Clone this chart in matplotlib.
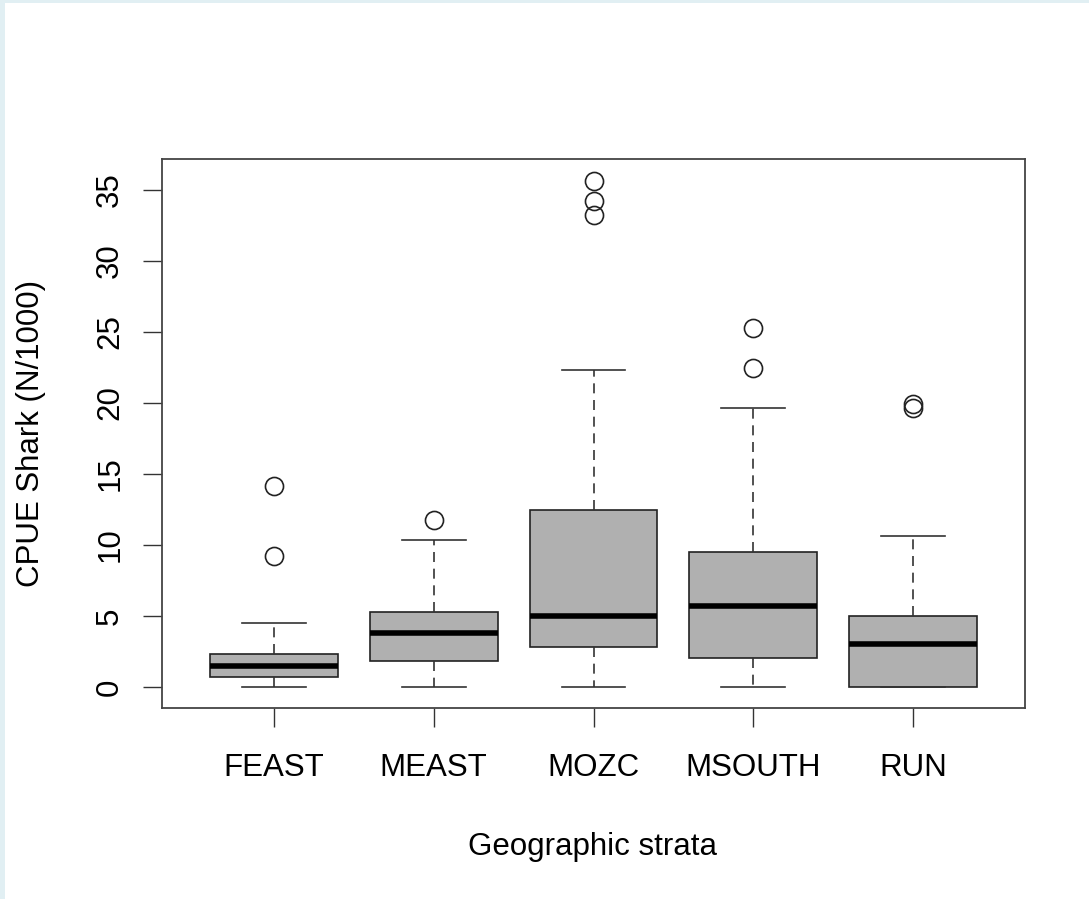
import matplotlib.pyplot as plt
from matplotlib.patches import Rectangle

# strata and box summaries
strata = ['FEAST', 'MEAST', 'MOZC', 'MSOUTH', 'RUN']
whisk_lo = [0.0, 0.0, 0.0, 0.0, 0.0]
q1 = [0.7, 1.85, 2.85, 2.07, 0.0]
medians = [1.48, 3.78, 5.0, 5.7, 3.0]
q3 = [2.32, 5.26, 12.44, 9.49, 5.0]
whisk_hi = [4.48, 10.35, 22.35, 19.65, 10.66]
outliers = [
    [9.2, 14.18],
    [11.76],
    [33.24, 34.2, 35.63],
    [22.44, 25.26],
    [19.65, 19.95],
]
y_ticks = [0, 5, 10, 15, 20, 25, 30, 35]

plt.rcParams['font.family'] = ['Liberation Sans', 'DejaVu Sans']

fig = plt.figure(figsize=(10.89, 8.99), dpi=100)
ax = fig.add_axes([162 / 1089, 1 - 708 / 899, 863 / 1089, 549 / 899])

# light blue frame of the screenshot
fig.patches.append(Rectangle((0, 1 - 3 / 899), 1, 3 / 899, transform=fig.transFigure,
                             facecolor='#e1eff3', edgecolor='none', zorder=0))
fig.patches.append(Rectangle((0, 0), 5 / 1089, 1, transform=fig.transFigure,
                             facecolor='#e1eff3', edgecolor='none', zorder=0))

stats = []
for i, name in enumerate(strata):
    stats.append(dict(label=name, whislo=whisk_lo[i], q1=q1[i], med=medians[i],
                      q3=q3[i], whishi=whisk_hi[i], fliers=outliers[i]))

ax.bxp(stats, positions=range(1, len(strata) + 1), widths=0.8, patch_artist=True,
       boxprops=dict(facecolor='#b0b0b0', edgecolor='#222222', linewidth=1.2),
       medianprops=dict(color='black', linewidth=4, solid_capstyle='butt'),
       whiskerprops=dict(color='#333333', linewidth=1.2, linestyle=(0, (6, 4))),
       capprops=dict(color='#333333', linewidth=1.2),
       capwidths=0.4,
       flierprops=dict(marker='o', markersize=13, markerfacecolor='none',
                       markeredgecolor='#222222', markeredgewidth=1.2))

ax.set_xlim(0.3, 5.7)
ax.set_ylim(-1.48, 37.18)
ax.set_yticks(y_ticks)
ax.set_yticklabels([str(t) for t in y_ticks], rotation=90, va='center')
ax.tick_params(axis='both', direction='out', length=13.5, width=1, colors='#333333',
               labelcolor='black', labelsize=22.5)
ax.tick_params(axis='x', pad=19)
ax.tick_params(axis='y', pad=13)

for s in ax.spines.values():
    s.set_color('#444444')
    s.set_linewidth(1.3)

fig.text(593 / 1089, 1 - 855 / 899, 'Geographic strata', ha='center', va='baseline', fontsize=22.5)
fig.text(31 / 1089, 1 - 433 / 899, 'CPUE Shark (N/1000)', ha='center', va='center',
         rotation=90, fontsize=22.5)

fig.savefig('out.png', dpi=100)
